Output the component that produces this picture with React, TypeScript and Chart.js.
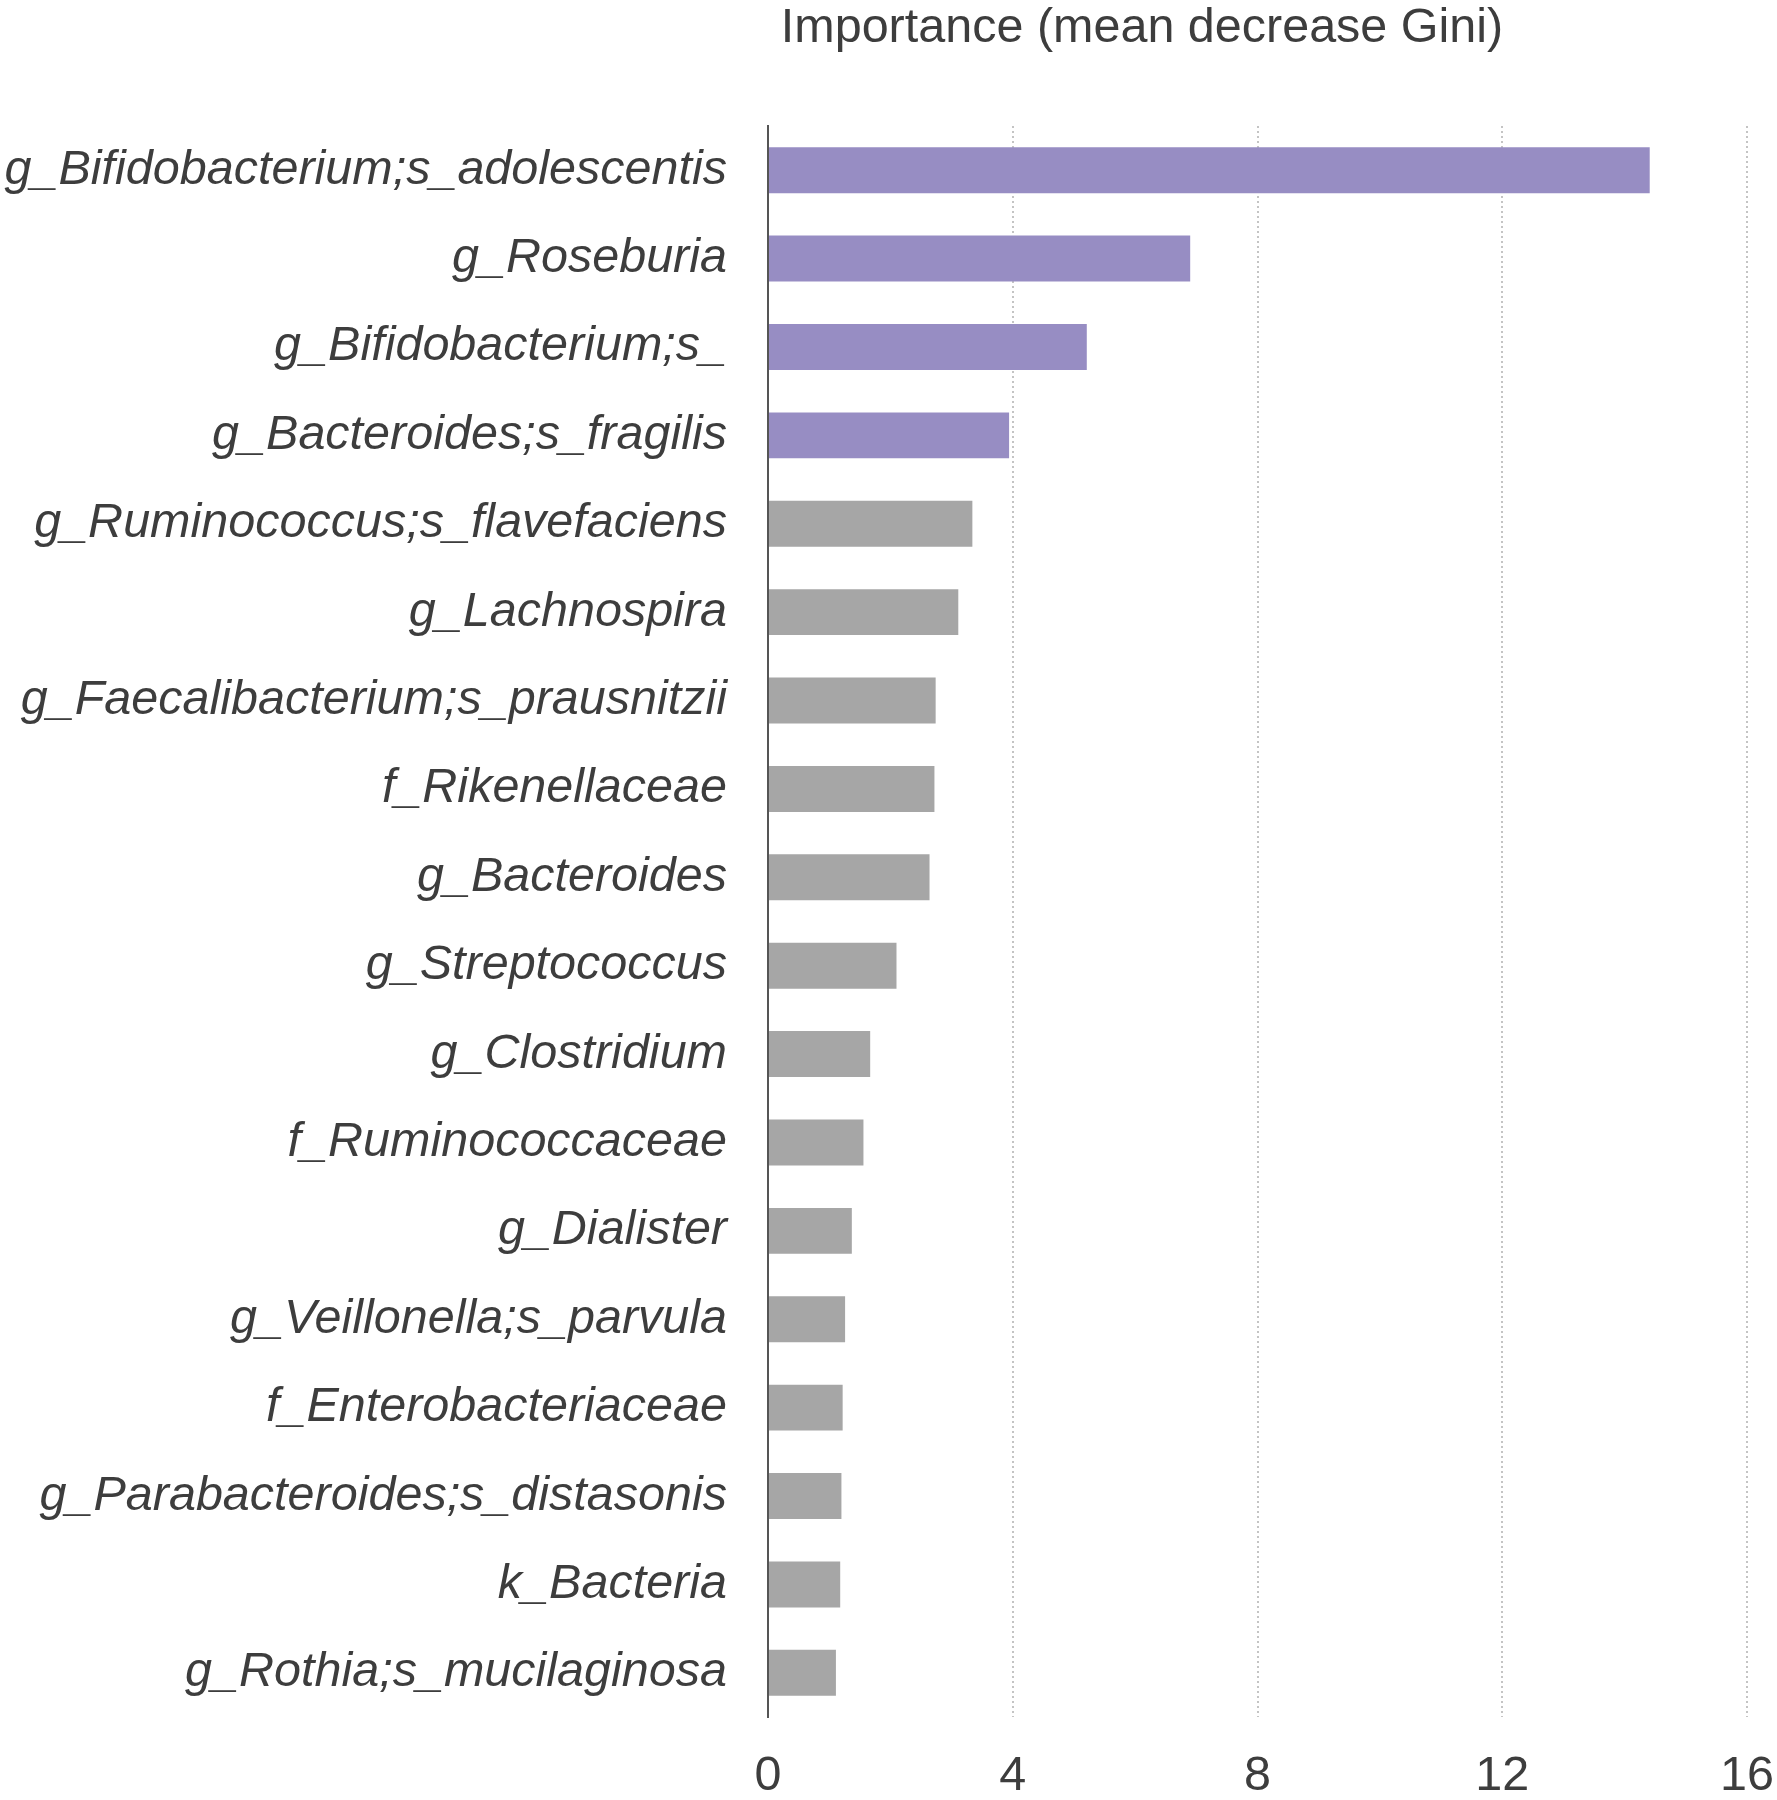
import React, { useEffect, useRef } from "react";
import { Chart, registerables } from "chart.js";

Chart.register(...registerables);

const categories = [
  "g_Bifidobacterium;s_adolescentis",
  "g_Roseburia",
  "g_Bifidobacterium;s_",
  "g_Bacteroides;s_fragilis",
  "g_Ruminococcus;s_flavefaciens",
  "g_Lachnospira",
  "g_Faecalibacterium;s_prausnitzii",
  "f_Rikenellaceae",
  "g_Bacteroides",
  "g_Streptococcus",
  "g_Clostridium",
  "f_Ruminococcaceae",
  "g_Dialister",
  "g_Veillonella;s_parvula",
  "f_Enterobacteriaceae",
  "g_Parabacteroides;s_distasonis",
  "k_Bacteria",
  "g_Rothia;s_mucilaginosa",
];

const importance = [
  14.41, 6.9, 5.21, 3.94, 3.34, 3.11, 2.74, 2.72, 2.64, 2.1, 1.67, 1.56, 1.37,
  1.26, 1.22, 1.2, 1.18, 1.11,
];

const highlightedCount = 4;
const xTicks = [0, 4, 8, 12, 16];
const titleText = "Importance (mean decrease Gini)";

const PURPLE = "rgb(151,141,195)";
const GRAY = "rgb(166,166,166)";
const TEXT = "#3d3d3d";
const FONT = "'Liberation Sans', Arial, sans-serif";

const titlePlugin = {
  id: "customTitle",
  afterDraw(chart: any) {
    const ctx = chart.ctx;
    ctx.save();
    ctx.font = `48.5px ${FONT}`;
    ctx.fillStyle = TEXT;
    ctx.textAlign = "center";
    ctx.textBaseline = "middle";
    ctx.fillText(titleText, 1142, 29);
    ctx.restore();
  },
};

export default function App() {
  const ref = useRef<HTMLCanvasElement | null>(null);

  useEffect(() => {
    if (!ref.current) return;
    const colors = importance.map((_, i) => (i < highlightedCount ? PURPLE : GRAY));
    const chart = new Chart(ref.current, {
      type: "bar",
      data: {
        labels: categories,
        datasets: [
          {
            data: importance,
            backgroundColor: colors,
            borderWidth: 0,
            barPercentage: 0.52,
            categoryPercentage: 1,
          },
        ],
      },
      options: {
        indexAxis: "y",
        animation: false,
        responsive: false,
        maintainAspectRatio: false,
        layout: { padding: { top: 126, right: 30, left: 0, bottom: 0 } },
        plugins: {
          legend: { display: false },
          tooltip: { enabled: false },
          title: { display: false },
        },
        scales: {
          x: {
            type: "linear",
            min: 0,
            max: 16,
            afterBuildTicks: (s: any) => {
              s.ticks = xTicks.map((v) => ({ value: v }));
            },
            afterFit: (s: any) => {
              s.height = 83;
              s.paddingRight = 0;
              s.paddingLeft = 0;
            },
            grid: {
              display: true,
              color: "#c4c4c4",
              lineWidth: 2,
              drawTicks: false,
            },
            border: { display: false, dash: [2, 3] },
            ticks: {
              color: TEXT,
              font: { family: FONT, size: 48.5 },
              padding: 31,
              maxRotation: 0,
            },
          },
          y: {
            afterFit: (s: any) => {
              s.width = 768;
            },
            grid: { display: false, drawTicks: false },
            border: { display: true, color: "#555555", width: 2 },
            ticks: {
              color: TEXT,
              font: { family: FONT, size: 48.5, style: "italic" },
              padding: 41,
              autoSkip: false,
            },
          },
        },
      },
      plugins: [titlePlugin],
    });
    return () => chart.destroy();
  }, []);

  return (
    <div style={{ position: "fixed", left: 0, top: 0, width: 1777, height: 1800, background: "#fff" }}>
      <canvas ref={ref} width={1777} height={1800} style={{ width: 1777, height: 1800, display: "block" }} />
    </div>
  );
}
